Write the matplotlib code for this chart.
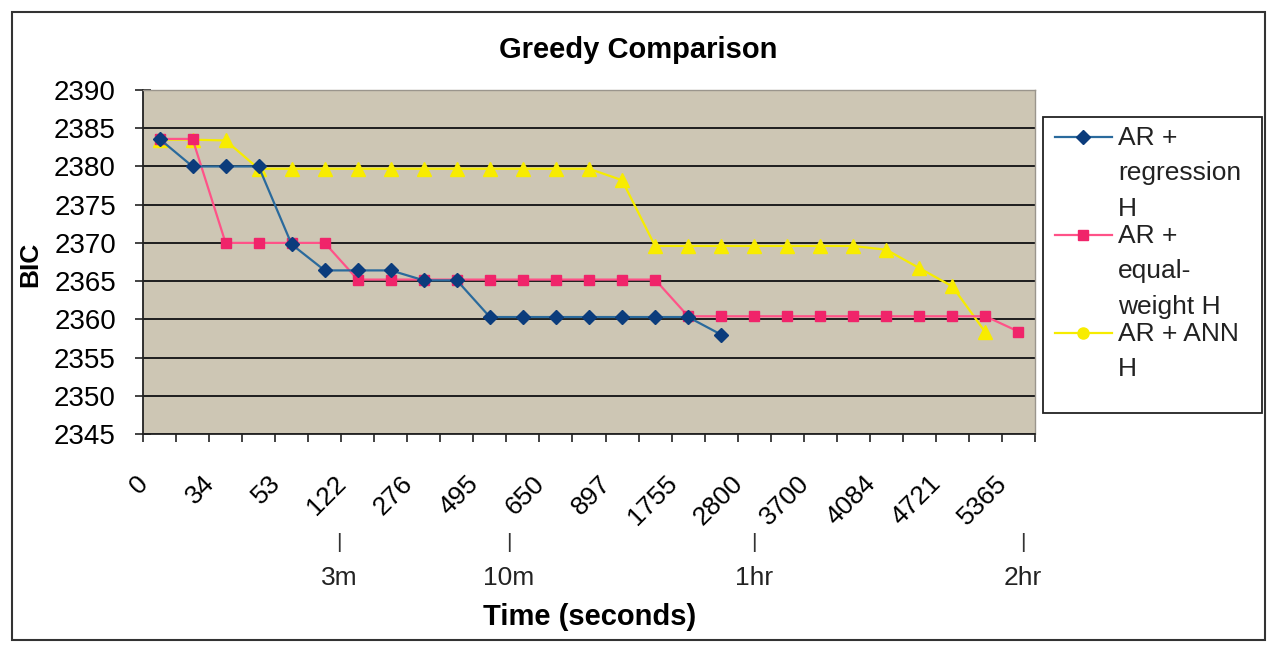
import numpy as np
import matplotlib
matplotlib.use("Agg")
import matplotlib.pyplot as plt
from matplotlib.lines import Line2D
from matplotlib.patches import Rectangle
from matplotlib.transforms import ScaledTranslation, blended_transform_factory

plt.rcParams['font.family'] = ['Liberation Sans', 'DejaVu Sans']

# ---------------- data ----------------
n_categories = 27
x_labels = ['0', '34', '53', '122', '276', '495', '650', '897', '1755',
            '2800', '3700', '4084', '4721', '5365']

ar_regression = [2383.6, 2380.0, 2380.0, 2380.0, 2369.8, 2366.4, 2366.4, 2366.4,
                 2365.1, 2365.1, 2360.3, 2360.3, 2360.3, 2360.3, 2360.3, 2360.3,
                 2360.3, 2358.0]
ar_equal = [2383.6, 2383.6, 2370.0, 2370.0, 2370.0, 2370.0,
            2365.2, 2365.2, 2365.2, 2365.2, 2365.2, 2365.2, 2365.2, 2365.2, 2365.2, 2365.2,
            2360.4, 2360.4, 2360.4, 2360.4, 2360.4, 2360.4, 2360.4, 2360.4, 2360.4, 2360.4,
            2358.4]
ar_ann = [2383.5, 2383.5, 2383.4,
          2379.7, 2379.7, 2379.7, 2379.7, 2379.7, 2379.7, 2379.7, 2379.7, 2379.7, 2379.7, 2379.7,
          2378.2,
          2369.6, 2369.6, 2369.6, 2369.6, 2369.6, 2369.6, 2369.6,
          2369.1, 2366.7, 2364.3, 2358.3]

series_names = ['AR +\nregression\nH', 'AR +\nequal-\nweight H', 'AR + ANN\nH']
time_marks = ['3m', '10m', '1hr', '2hr']
time_mark_pos = [5.43, 10.58, 17.99, 26.13]

# ---------------- figure ----------------
W, H = 1275, 649
fig = plt.figure(figsize=(W / 100, H / 100), dpi=100)
fig.patch.set_facecolor('white')

def fx(px):
    return px / W

def fy(py):
    return 1 - py / H

ax = fig.add_axes([fx(143), fy(434), fx(1035) - fx(143), fy(90) - fy(434)])
ax.set_facecolor('#cdc6b4')

blue_line, blue_mk = '#2a6a9c', '#0b3c7c'
pink_line, pink_mk = '#ff5288', '#f0246a'
yel_line, yel_mk = '#f6ec00', '#f8ec00'

x_b = np.arange(len(ar_regression))
x_p = np.arange(len(ar_equal))
x_y = np.arange(len(ar_ann))

ax.plot(x_b, ar_regression, color=blue_line, lw=1.6, marker='D', ms=7,
        mfc=blue_mk, mec=blue_mk, zorder=5)
ax.plot(x_p, ar_equal, color=pink_line, lw=1.6, marker='s', ms=7.5,
        mfc=pink_mk, mec=pink_mk, zorder=4)
ax.plot(x_y, ar_ann, color=yel_line, lw=1.6, marker='^', ms=10,
        mfc=yel_mk, mec=yel_mk, zorder=3)

ax.set_xlim(-0.5, n_categories - 0.5)
ax.set_ylim(2345, 2390)
ax.set_yticks(np.arange(2345, 2391, 5))
ax.yaxis.grid(True, color='#1e1e1e', lw=1.4)
ax.set_axisbelow(True)

# x ticks: boundaries as major (no labels), every other category labeled
ax.set_xticks(np.arange(-0.5, n_categories, 1.0))
ax.set_xticklabels([])
ax.set_xticks(np.arange(0, n_categories, 2), minor=True)
ax.set_xticklabels(x_labels, minor=True, rotation=45, ha='right', va='center',
                   rotation_mode='anchor', fontsize=19)
ax.tick_params(axis='x', which='major', direction='out', length=6, width=1.2, color='#222')
ax.tick_params(axis='x', which='minor', length=0, pad=33)
off = ScaledTranslation(-15 / 100, 0, fig.dpi_scale_trans)
for lab in ax.get_xticklabels(minor=True):
    lab.set_transform(lab.get_transform() + off)

ax.tick_params(axis='y', direction='inout', length=11, width=1.2, color='#222',
               labelsize=20, pad=14)

for s in ['left', 'bottom']:
    ax.spines[s].set_color('#222')
    ax.spines[s].set_linewidth(1.3)
for s in ['top', 'right']:
    ax.spines[s].set_color('#9a958c')
    ax.spines[s].set_linewidth(1.0)

# titles
fig.text(fx(638), fy(50), 'Greedy Comparison', ha='center', va='center',
         fontsize=21, fontweight='bold')
fig.text(fx(30), fy(264), 'BIC', ha='center', va='center', rotation=90,
         fontsize=19, fontweight='bold')
fig.text(fx(590), fy(617), 'Time (seconds)', ha='center', va='center',
         fontsize=21, fontweight='bold')

# time annotations
tr = blended_transform_factory(ax.transData, fig.transFigure)
for lab, pos in zip(time_marks, time_mark_pos):
    fig.text(pos, fy(542), '|', transform=tr, ha='center', va='center',
             fontsize=15, color='#333')
    fig.text(pos, fy(578), lab, transform=tr, ha='center', va='center',
             fontsize=19, color='#222')

# legend (drawn manually)
fig.add_artist(Rectangle((fx(1043), fy(413)), fx(1262) - fx(1043), fy(117) - fy(413),
                         transform=fig.transFigure, facecolor='white',
                         edgecolor='#222', lw=1.3))
leg_styles = [(blue_line, blue_mk, 'D', 7), (pink_line, pink_mk, 's', 7.5),
              (yel_line, yel_mk, 'o', 8)]
leg_y = [137, 235, 333]
for (lc, mc, mk, ms), name, yy in zip(leg_styles, series_names, leg_y):
    fig.add_artist(Line2D([fx(1055), fx(1112)], [fy(yy), fy(yy)], transform=fig.transFigure,
                          color=lc, lw=1.6))
    fig.add_artist(Line2D([fx(1083)], [fy(yy)], transform=fig.transFigure,
                          marker=mk, ms=ms, mfc=mc, mec=mc, lw=0))
    fig.text(fx(1118), fy(yy - 11), name, ha='left', va='top', fontsize=19,
             color='#222', linespacing=1.6)

# outer chart border
fig.add_artist(Rectangle((fx(12), fy(640)), fx(1265) - fx(12), fy(12) - fy(640),
                         transform=fig.transFigure, facecolor='none',
                         edgecolor='#333', lw=1.5))

fig.savefig('out.png', dpi=100)
